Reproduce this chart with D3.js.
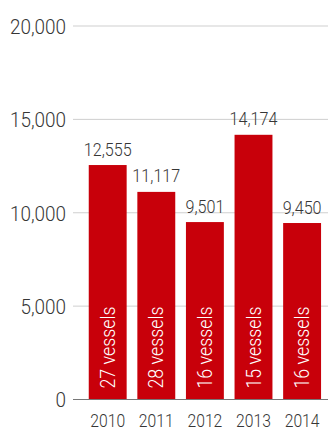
<!DOCTYPE html>
<html>
<head>
<meta charset="utf-8">
<script src="https://cdn.jsdelivr.net/npm/d3@7"></script>
<style>
  html, body { margin: 0; padding: 0; background: #fff; }
  svg { display: block; }
  text { font-family: Roboto, "Noto Sans", sans-serif; font-weight: 300; }
</style>
</head>
<body>
<svg id="chart" width="328" height="430"></svg>
<script>
// Annual totals with the number of vessels behind each year
const years = ["2010", "2011", "2012", "2013", "2014"];
const totals = [12555, 11117, 9501, 14174, 9450];
const vessels = [27, 28, 16, 15, 16];
const yTicks = [0, 5000, 10000, 15000, 20000];

const data = years.map((yr, i) => ({ year: yr, value: totals[i], vessels: vessels[i] }));

const svg = d3.select("#chart");
const plotLeft = 73, plotRight = 328, plotTop = 26, plotBottom = 399.5;
const narrow = "scale(0.85,1)"; // condensed look for labels
const ink = "#363636";

const x = d3.scaleBand()
  .domain(years)
  .range([83.4, 326.4])
  .paddingInner(0.22)
  .paddingOuter(0.11);

const y = d3.scaleLinear().domain([0, 20000]).range([plotBottom, plotTop]);

const fmt = d3.format(",");

// Tick labels on the value axis
const yAxis = d3.axisLeft(y).tickValues(yTicks).tickSize(0).tickPadding(0).tickFormat(fmt);
const gy = svg.append("g").attr("transform", `translate(${plotLeft - 7},0)`).call(yAxis);
gy.select(".domain").remove();
gy.selectAll("text")
  .attr("fill", ink)
  .attr("dy", "0.35em")
  .attr("transform", "scale(0.9,1)")
  .style("font-size", "21px")
  .style("font-family", "Roboto, sans-serif")
  .style("font-weight", "300");

// Gridlines
svg.append("g").selectAll("line")
  .data(yTicks.filter(t => t > 0))
  .join("line")
  .attr("x1", plotLeft).attr("x2", plotRight)
  .attr("y1", d => y(d)).attr("y2", d => y(d))
  .attr("stroke", "#cfcfcf").attr("stroke-width", 1);

// Bars
svg.append("g").selectAll("rect")
  .data(data)
  .join("rect")
  .attr("x", d => x(d.year))
  .attr("width", x.bandwidth())
  .attr("y", d => y(d.value))
  .attr("height", d => y(0) - y(d.value))
  .attr("fill", "#c8000a");

// Baseline
svg.append("line")
  .attr("x1", plotLeft).attr("x2", plotRight)
  .attr("y1", y(0)).attr("y2", y(0))
  .attr("stroke", "#777").attr("stroke-width", 1);

// Value labels above bars
svg.append("g").selectAll("g")
  .data(data)
  .join("g")
  .attr("transform", d => `translate(${x(d.year) + x.bandwidth() / 2},${y(d.value) - 9.5})`)
  .append("text")
  .attr("text-anchor", "middle")
  .attr("transform", narrow)
  .attr("fill", ink)
  .style("font-size", "19px")
  .text(d => fmt(d.value));

// Vessel counts inside bars
svg.append("g").selectAll("g")
  .data(data)
  .join("g")
  .attr("transform", d => `translate(${x(d.year) + x.bandwidth() / 2 + 7},${y(0) - 11}) rotate(-90)`)
  .append("text")
  .attr("transform", "scale(0.89,1)")
  .attr("fill", "#fff")
  .style("font-size", "20px")
  .text(d => `${d.vessels} vessels`);

// Year labels
const xAxis = d3.axisBottom(x).tickSize(0).tickPadding(0);
const gx = svg.append("g").attr("transform", `translate(0,${y(0) + 27})`).call(xAxis);
gx.select(".domain").remove();
gx.selectAll("text")
  .attr("dy", 0)
  .attr("transform", narrow)
  .attr("fill", ink)
  .style("font-size", "18.5px")
  .style("font-family", "Roboto, sans-serif")
  .style("font-weight", "300");
</script>
</body>
</html>
